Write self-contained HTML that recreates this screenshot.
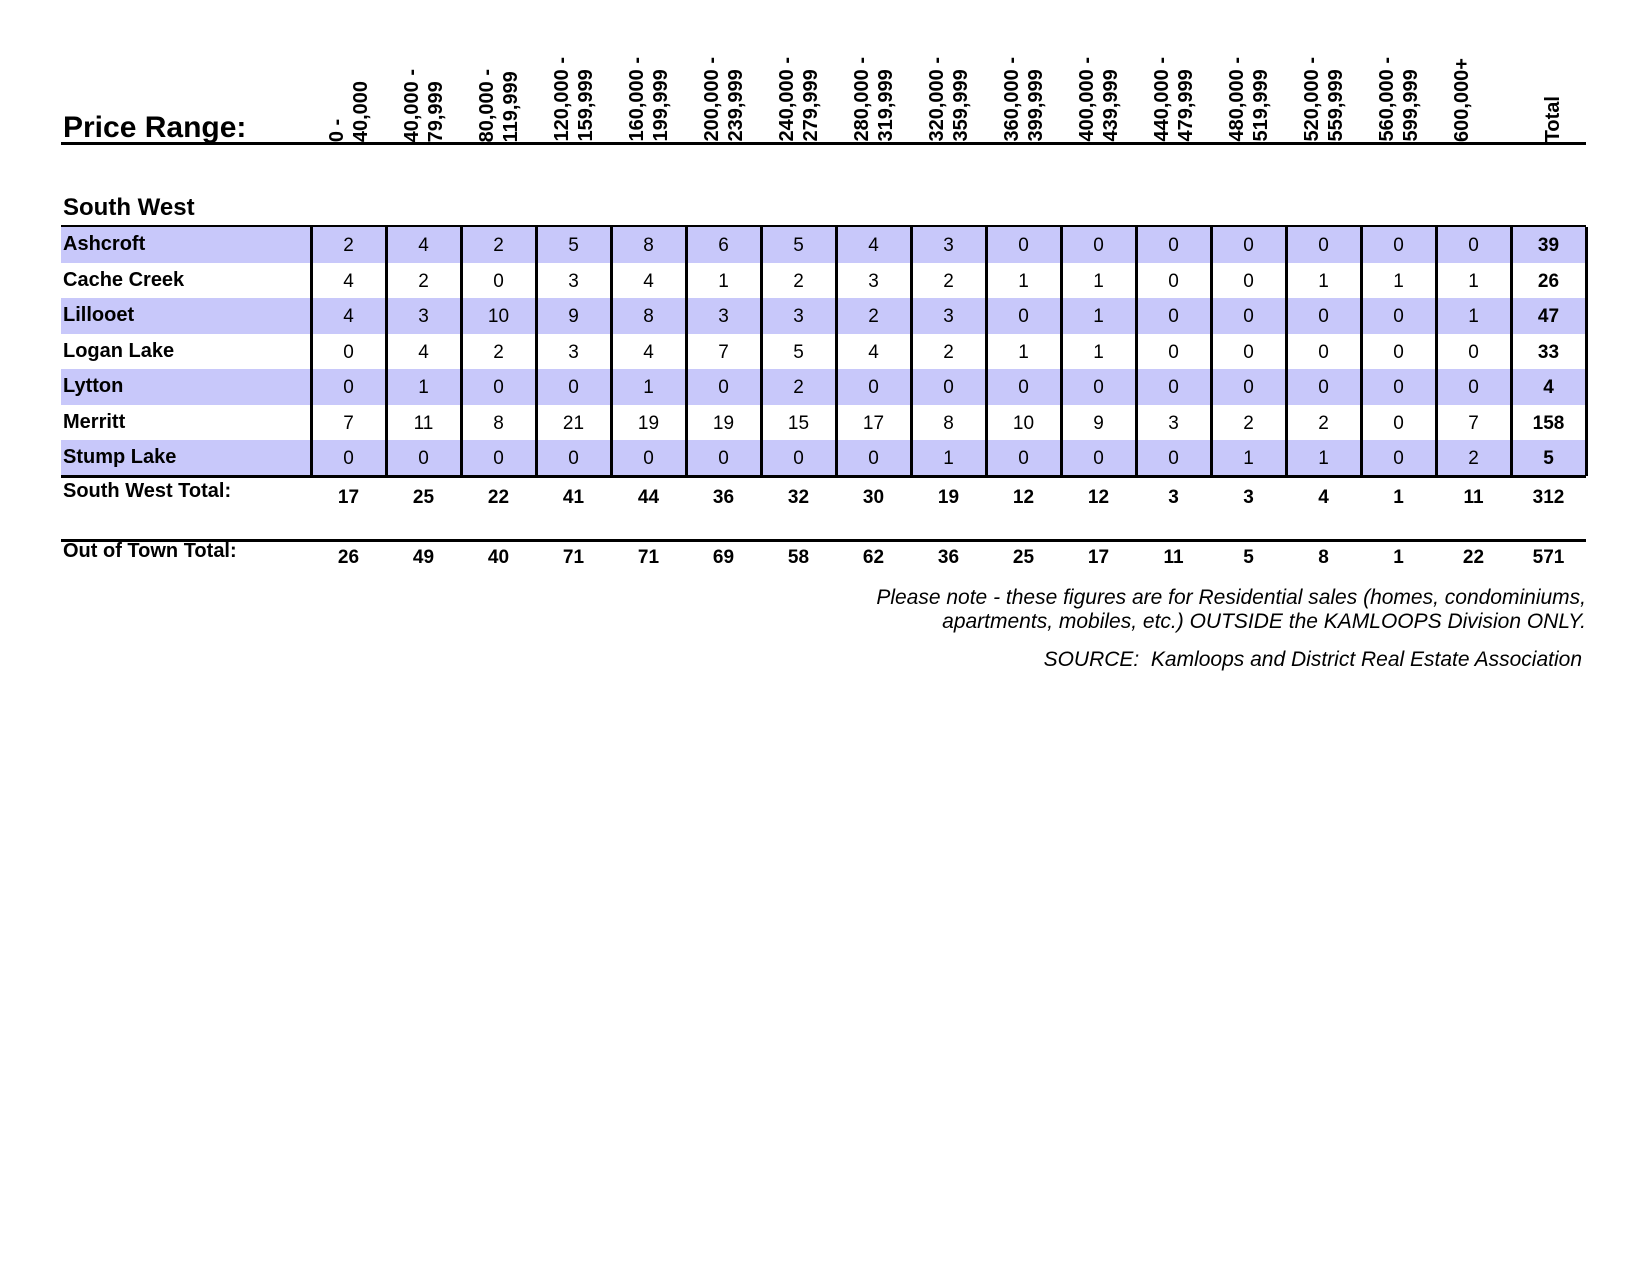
<!DOCTYPE html>
<html><head><meta charset="utf-8"><style>
body{margin:0;width:1650px;height:1275px;background:#fff;position:relative;font-family:"Liberation Sans",Arial,sans-serif;color:#000;overflow:hidden}
.a{position:absolute}
.hl{position:absolute;background:#000}
.v{position:absolute;width:75px;text-align:center;font-size:19px;line-height:35.5px}
.lab{position:absolute;left:63px;font-weight:bold;font-size:20px;line-height:35.5px}
.sh{position:absolute;left:61px;width:1525px;height:35.5px;background:#c8c8fa}
.hd{position:absolute;bottom:1133px;font-weight:bold;font-size:20px;line-height:24px;writing-mode:vertical-rl;transform:rotate(180deg);white-space:nowrap}
.b{font-weight:bold}
.note{position:absolute;right:64px;text-align:right;font-style:italic;font-size:21px;line-height:24px}
</style></head><body>
<div class="a b" style="left:63px;top:111px;font-size:30px">Price Range:</div>
<div class="hl" style="left:61px;top:142px;width:1525px;height:3px"></div>
<div class="a b" style="left:63px;top:194px;font-size:24px">South West</div>
<div class="hl" style="left:61px;top:225px;width:1525px;height:3px"></div>
<div id="t"></div>
<div class="hl" style="left:61px;top:539px;width:1525px;height:3px"></div>
<div class="note" style="top:586px">Please note - these figures are for Residential sales (homes, condominiums,<br>apartments, mobiles, etc.) OUTSIDE the KAMLOOPS Division ONLY.</div>
<div class="note" style="top:648px;right:68px">SOURCE:&nbsp; Kamloops and District Real Estate Association</div>
<script>
var hd=[["0 -","40,000"],["40,000 -","79,999"],["80,000 -","119,999"],["120,000 -","159,999"],["160,000 -","199,999"],["200,000 -","239,999"],["240,000 -","279,999"],["280,000 -","319,999"],["320,000 -","359,999"],["360,000 -","399,999"],["400,000 -","439,999"],["440,000 -","479,999"],["480,000 -","519,999"],["520,000 -","559,999"],["560,000 -","599,999"],["600,000+"],["Total"]];
var rows=[["Ashcroft",[2,4,2,5,8,6,5,4,3,0,0,0,0,0,0,0,39]],["Cache Creek",[4,2,0,3,4,1,2,3,2,1,1,0,0,1,1,1,26]],["Lillooet",[4,3,10,9,8,3,3,2,3,0,1,0,0,0,0,1,47]],["Logan Lake",[0,4,2,3,4,7,5,4,2,1,1,0,0,0,0,0,33]],["Lytton",[0,1,0,0,1,0,2,0,0,0,0,0,0,0,0,0,4]],["Merritt",[7,11,8,21,19,19,15,17,8,10,9,3,2,2,0,7,158]],["Stump Lake",[0,0,0,0,0,0,0,0,1,0,0,0,1,1,0,2,5]]];
var sw=[17,25,22,41,44,36,32,30,19,12,12,3,3,4,1,11,312],ot=[26,49,40,71,71,69,58,62,36,25,17,11,5,8,1,22,571];
var h="",x0=311,w=75,y0=227,rh=35.5;
hd.forEach(function(l,i){var x=x0+i*w+(i==16?30:14);h+='<div class="hd" style="left:'+x+'px">'+l.join("<br>")+'</div>';});
rows.forEach(function(r,j){var y=y0+j*rh;if(j%2==0)h+='<div class="sh" style="top:'+y+'px"></div>';
h+='<div class="lab" style="top:'+y+'px">'+r[0]+'</div>';
r[1].forEach(function(v,i){h+='<div class="v'+(i==16?' b':'')+'" style="left:'+(x0+i*w)+'px;top:'+(y+1)+'px">'+v+'</div>';});});
for(var i=0;i<=17;i++)h+='<div class="hl" style="left:'+(x0-1+i*w)+'px;top:227px;width:3px;height:249px"></div>';
h+='<div class="hl" style="left:61px;top:475px;width:1525px;height:3px"></div>';
h+='<div class="lab" style="top:474px">South West Total:</div>';
sw.forEach(function(v,i){h+='<div class="v b" style="left:'+(x0+i*w)+'px;top:480px">'+v+'</div>';});
h+='<div class="lab" style="top:534px">Out of Town Total:</div>';
ot.forEach(function(v,i){h+='<div class="v b" style="left:'+(x0+i*w)+'px;top:540px">'+v+'</div>';});
document.getElementById("t").innerHTML=h;
</script>
</body></html>
